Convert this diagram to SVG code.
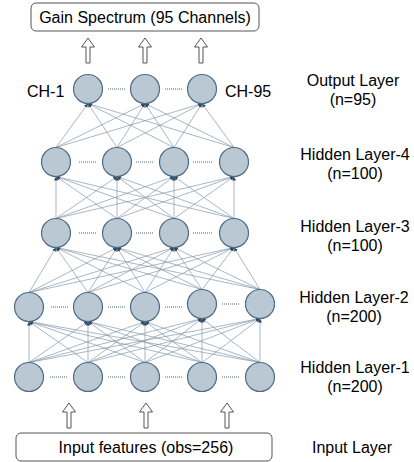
<svg xmlns="http://www.w3.org/2000/svg" width="414" height="462" viewBox="0 0 414 462">
<style>
text{font-family:"Liberation Sans",Arial,sans-serif;fill:#000;}
.lbl{font-size:16px;text-anchor:middle;}
.ch{font-size:16px;}
.box{fill:#fff;stroke:#555;stroke-width:1;}
.neuron{fill:#bac8d3;stroke:#4f6b84;stroke-width:1.2;}
.dots{stroke:#4f6b84;stroke-width:1.2;stroke-dasharray:1 1;}
.bigarrow{fill:#fff;stroke:#555;stroke-width:1;}
#connectors line{stroke:#8498aa;stroke-width:0.7;marker-end:url(#ah);}
</style>
<defs>
<marker id="ah" viewBox="0 0 6 6" refX="6" refY="3" markerWidth="4" markerHeight="4" orient="auto" markerUnits="userSpaceOnUse">
<path d="M0,0 L6,3 L0,6 z" fill="#2e4a63"/>
</marker>
<circle id="n" r="14.5"/>
<path id="barrow" d="M0,0 L6.5,9 L2,9 L2,25 L-2,25 L-2,9 L-6.5,9 z"/>
</defs>

<g id="output-box"><rect class="box" x="31" y="3" width="228" height="28" rx="5"/><text class="lbl" x="145" y="23">Gain Spectrum (95 Channels)</text></g>
<g id="input-box"><rect class="box" x="16" y="433" width="256" height="28" rx="5"/><text class="lbl" x="146" y="453">Input features (obs=256)</text></g>

<g id="arrows">
<use href="#barrow" class="bigarrow" x="88" y="38"/>
<use href="#barrow" class="bigarrow" x="145" y="38"/>
<use href="#barrow" class="bigarrow" x="201" y="38"/>
<use href="#barrow" class="bigarrow" x="69" y="403"/>
<use href="#barrow" class="bigarrow" x="146" y="403"/>
<use href="#barrow" class="bigarrow" x="227" y="403"/>
</g>

<g id="connectors">
<!-- L1 -> L2 -->
<line x1="29" y1="362.5" x2="29" y2="321.5"/><line x1="29" y1="362.5" x2="88" y2="321.5"/><line x1="29" y1="362.5" x2="145" y2="321.5"/><line x1="29" y1="362.5" x2="202" y2="318.5"/><line x1="29" y1="362.5" x2="260" y2="318.5"/>
<line x1="88" y1="362.5" x2="29" y2="321.5"/><line x1="88" y1="362.5" x2="88" y2="321.5"/><line x1="88" y1="362.5" x2="145" y2="321.5"/><line x1="88" y1="362.5" x2="202" y2="318.5"/><line x1="88" y1="362.5" x2="260" y2="318.5"/>
<line x1="145" y1="362.5" x2="29" y2="321.5"/><line x1="145" y1="362.5" x2="88" y2="321.5"/><line x1="145" y1="362.5" x2="145" y2="321.5"/><line x1="145" y1="362.5" x2="202" y2="318.5"/><line x1="145" y1="362.5" x2="260" y2="318.5"/>
<line x1="202" y1="362.5" x2="29" y2="321.5"/><line x1="202" y1="362.5" x2="88" y2="321.5"/><line x1="202" y1="362.5" x2="145" y2="321.5"/><line x1="202" y1="362.5" x2="202" y2="318.5"/><line x1="202" y1="362.5" x2="260" y2="318.5"/>
<line x1="260" y1="362.5" x2="29" y2="321.5"/><line x1="260" y1="362.5" x2="88" y2="321.5"/><line x1="260" y1="362.5" x2="145" y2="321.5"/><line x1="260" y1="362.5" x2="202" y2="318.5"/><line x1="260" y1="362.5" x2="260" y2="318.5"/>
<!-- L2 -> L3 -->
<line x1="29" y1="292.5" x2="56" y2="247.5"/><line x1="29" y1="292.5" x2="117" y2="247.5"/><line x1="29" y1="292.5" x2="174" y2="247.5"/><line x1="29" y1="292.5" x2="234" y2="247.5"/>
<line x1="88" y1="292.5" x2="56" y2="247.5"/><line x1="88" y1="292.5" x2="117" y2="247.5"/><line x1="88" y1="292.5" x2="174" y2="247.5"/><line x1="88" y1="292.5" x2="234" y2="247.5"/>
<line x1="145" y1="292.5" x2="56" y2="247.5"/><line x1="145" y1="292.5" x2="117" y2="247.5"/><line x1="145" y1="292.5" x2="174" y2="247.5"/><line x1="145" y1="292.5" x2="234" y2="247.5"/>
<line x1="202" y1="289.5" x2="56" y2="247.5"/><line x1="202" y1="289.5" x2="117" y2="247.5"/><line x1="202" y1="289.5" x2="174" y2="247.5"/><line x1="202" y1="289.5" x2="234" y2="247.5"/>
<line x1="260" y1="289.5" x2="56" y2="247.5"/><line x1="260" y1="289.5" x2="117" y2="247.5"/><line x1="260" y1="289.5" x2="174" y2="247.5"/><line x1="260" y1="289.5" x2="234" y2="247.5"/>
<!-- L3 -> L4 -->
<line x1="56" y1="218.5" x2="56" y2="176.5"/><line x1="56" y1="218.5" x2="117" y2="176.5"/><line x1="56" y1="218.5" x2="174" y2="176.5"/><line x1="56" y1="218.5" x2="234" y2="176.5"/>
<line x1="117" y1="218.5" x2="56" y2="176.5"/><line x1="117" y1="218.5" x2="117" y2="176.5"/><line x1="117" y1="218.5" x2="174" y2="176.5"/><line x1="117" y1="218.5" x2="234" y2="176.5"/>
<line x1="174" y1="218.5" x2="56" y2="176.5"/><line x1="174" y1="218.5" x2="117" y2="176.5"/><line x1="174" y1="218.5" x2="174" y2="176.5"/><line x1="174" y1="218.5" x2="234" y2="176.5"/>
<line x1="234" y1="218.5" x2="56" y2="176.5"/><line x1="234" y1="218.5" x2="117" y2="176.5"/><line x1="234" y1="218.5" x2="174" y2="176.5"/><line x1="234" y1="218.5" x2="234" y2="176.5"/>
<!-- L4 -> Output -->
<line x1="56" y1="147.5" x2="88" y2="103.5"/><line x1="56" y1="147.5" x2="145" y2="103.5"/><line x1="56" y1="147.5" x2="202" y2="103.5"/>
<line x1="117" y1="147.5" x2="88" y2="103.5"/><line x1="117" y1="147.5" x2="145" y2="103.5"/><line x1="117" y1="147.5" x2="202" y2="103.5"/>
<line x1="174" y1="147.5" x2="88" y2="103.5"/><line x1="174" y1="147.5" x2="145" y2="103.5"/><line x1="174" y1="147.5" x2="202" y2="103.5"/>
<line x1="234" y1="147.5" x2="88" y2="103.5"/><line x1="234" y1="147.5" x2="145" y2="103.5"/><line x1="234" y1="147.5" x2="202" y2="103.5"/>
</g>

<g id="output-layer">
<use href="#n" class="neuron" x="88" y="89"/><use href="#n" class="neuron" x="145" y="89"/><use href="#n" class="neuron" x="202" y="89"/>
<line class="dots" x1="108" y1="89" x2="126" y2="89"/><line class="dots" x1="165" y1="89" x2="183" y2="89"/>
<text class="ch" x="27" y="97">CH-1</text><text class="ch" x="225" y="97">CH-95</text>
</g>
<g id="hidden-layer-4">
<use href="#n" class="neuron" x="56" y="162"/><use href="#n" class="neuron" x="117" y="162"/><use href="#n" class="neuron" x="174" y="162"/><use href="#n" class="neuron" x="234" y="162"/>
<line class="dots" x1="79" y1="162" x2="97" y2="162"/><line class="dots" x1="136" y1="162" x2="154" y2="162"/><line class="dots" x1="193" y1="162" x2="212" y2="162"/>
</g>
<g id="hidden-layer-3">
<use href="#n" class="neuron" x="56" y="233"/><use href="#n" class="neuron" x="117" y="233"/><use href="#n" class="neuron" x="174" y="233"/><use href="#n" class="neuron" x="234" y="233"/>
<line class="dots" x1="79" y1="233" x2="97" y2="233"/><line class="dots" x1="136" y1="233" x2="154" y2="233"/><line class="dots" x1="193" y1="233" x2="212" y2="233"/>
</g>
<g id="hidden-layer-2">
<use href="#n" class="neuron" x="29" y="307"/><use href="#n" class="neuron" x="88" y="307"/><use href="#n" class="neuron" x="145" y="307"/><use href="#n" class="neuron" x="202" y="304"/><use href="#n" class="neuron" x="260" y="304"/>
<line class="dots" x1="51" y1="307" x2="69" y2="307"/><line class="dots" x1="108" y1="307" x2="126" y2="307"/><line class="dots" x1="165" y1="307" x2="183" y2="307"/><line class="dots" x1="222" y1="304" x2="240" y2="304"/>
</g>
<g id="hidden-layer-1">
<use href="#n" class="neuron" x="29" y="377"/><use href="#n" class="neuron" x="88" y="377"/><use href="#n" class="neuron" x="145" y="377"/><use href="#n" class="neuron" x="202" y="377"/><use href="#n" class="neuron" x="260" y="377"/>
<line class="dots" x1="50" y1="377" x2="68" y2="377"/><line class="dots" x1="108" y1="377" x2="126" y2="377"/><line class="dots" x1="165" y1="377" x2="183" y2="377"/><line class="dots" x1="222" y1="377" x2="240" y2="377"/>
</g>

<g id="layer-labels">
<text class="lbl" x="353" y="86">Output Layer</text><text class="lbl" x="353" y="105">(n=95)</text>
<text class="lbl" x="355" y="160">Hidden Layer-4</text><text class="lbl" x="355" y="179">(n=100)</text>
<text class="lbl" x="355" y="232">Hidden Layer-3</text><text class="lbl" x="355" y="251">(n=100)</text>
<text class="lbl" x="354" y="303">Hidden Layer-2</text><text class="lbl" x="354" y="322">(n=200)</text>
<text class="lbl" x="355" y="373">Hidden Layer-1</text><text class="lbl" x="355" y="392">(n=200)</text>
<text class="lbl" x="352" y="453">Input Layer</text>
</g>
</svg>
